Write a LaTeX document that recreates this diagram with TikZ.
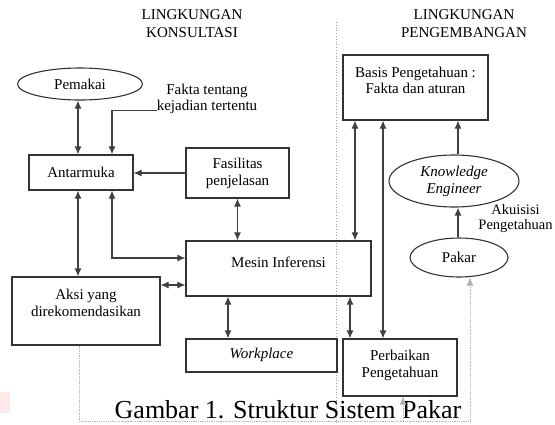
\documentclass[tikz,border=0pt]{standalone}
\usepackage{fontspec}
\setmainfont{Liberation Serif}
\usetikzlibrary{arrows.meta,shapes.geometric}
\newcommand{\dpad}[1]{\rule[-#1]{0pt}{#1}}
\begin{document}
\begin{tikzpicture}[>={Latex[length=8pt,width=7pt]}, x=1pt, y=-1pt,
	font=\fontsize{15}{17}\selectfont,
	box/.style={draw=black!80, line width=1.1pt, inner sep=0pt, align=center},
	oval/.style={ellipse, draw=black!80, line width=1.1pt, inner sep=0pt, align=center},
	txt/.style={inner sep=0pt, align=center},
	link/.style={black!75, line width=1.1pt},
	feed/.style={gray!60, line width=0.8pt, densely dotted}]
	\useasboundingbox (0,0) rectangle (555,424);
	\fill[pink!35] (0,392) rectangle (10,413);
	\draw[gray!75, line width=0.8pt, dotted] (336,22) -- (336,424);

	\node [txt, font=\fontsize{15}{18}\selectfont] (hkons) at (192,24) {LINGKUNGAN\\KONSULTASI};
	\node [txt, font=\fontsize{15}{18}\selectfont] (hpeng) at (464,24) {LINGKUNGAN\\PENGEMBANGAN};

	\node [oval, minimum width=125pt, minimum height=32pt] (pemakai) at (80,84) {Pemakai};
	\node [txt, font=\fontsize{15}{16}\selectfont] (fakta) at (207,99) {Fakta tentang\\kejadian tertentu};
	\node [box, minimum width=104pt, minimum height=35pt] (antar) at (81,172.5) {Antarmuka};
	\node [box, minimum width=103pt, minimum height=50pt] (fasil) at (237.5,173) {Fasilitas\\penjelasan};
	\node [box, minimum width=185pt, minimum height=55pt] (mesin) at (278.5,268.5) {Mesin Inferensi\dpad{13pt}};
	\node [box, minimum width=148pt, minimum height=68pt] (aksi) at (86,311) {Aksi yang\\direkomendasikan\dpad{16pt}};
	\node [box, minimum width=151pt, minimum height=33pt, font=\fontsize{15}{17}\selectfont\itshape] (work) at (261.5,355.5) {Workplace\dpad{5pt}};
	\node [box, minimum width=114pt, minimum height=57pt] (perb) at (400,367.5) {Perbaikan\\Pengetahuan\dpad{7pt}};
	\node [box, minimum width=145pt, minimum height=65pt, font=\fontsize{15}{16}\selectfont] (basis) at (415.5,87.5) {Basis Pengetahuan :\\Fakta dan aturan\dpad{15pt}};
	\node [oval, minimum width=130pt, minimum height=52pt, font=\fontsize{15}{17}\selectfont\itshape] (ke) at (454,181) {Knowledge\\Engineer};
	\node [oval, minimum width=98pt, minimum height=39pt] (pakar) at (459,257.5) {Pakar};
	\node [txt, font=\fontsize{14.5}{15}\selectfont] (akuis) at (515.5,219) {Akuisisi\\Pengetahuan};
	\node [anchor=base, inner sep=0pt, font=\fontsize{26}{30}\selectfont] (judul) at (288,418) {Gambar 1. Struktur Sistem Pakar};

	\draw[link, <->] ([xshift=-2pt]pemakai.south) -- ([xshift=-3pt]antar.north);
	\draw[link, ->] ([yshift=3.5pt]fakta.south west) -| ([xshift=31pt]antar.north);
	\draw[link, ->] (fasil.west) -- (fasil.west -| antar.east);
	\draw[link, <->] (fasil.south) -- (fasil.south |- mesin.north);
	\draw[link, <->] ([xshift=31pt]antar.south) |- ([yshift=10.5pt]mesin.west);
	\draw[link, <->] ([xshift=-3pt]antar.south) -- ([xshift=-3pt]antar.south |- aksi.north);
	\draw[link, <->] ([yshift=26pt]aksi.east) -- ([yshift=26pt]aksi.east -| mesin.west);
	\draw[link, <->] ([xshift=-33.5pt]work.north) -- ([xshift=-33.5pt]work.north |- mesin.south);
	\draw[link, <->] ([xshift=-50pt]perb.north) -- ([xshift=-50pt]perb.north |- mesin.south);
	\draw[link, <->] ([xshift=-60.5pt]basis.south) -- ([xshift=-60.5pt]basis.south |- mesin.north);
	\draw[link, <->] ([xshift=-32.5pt]basis.south) -- ([xshift=-32.5pt]basis.south |- perb.north);
	\draw[link, ->] ([xshift=4pt]ke.north) -- ([xshift=4pt]ke.north |- basis.south);
	\draw[link, ->] ([xshift=-1pt]pakar.north) -- ([xshift=-1pt]pakar.north |- ke.south);

	\coordinate (fb) at (403,421);
	\draw[feed, ->] ([xshift=-7pt]aksi.south) |- (fb) -| ([xshift=11pt]pakar.south);
	\draw[feed, ->] (fb) -- (fb |- perb.south);
\end{tikzpicture}
\end{document}
